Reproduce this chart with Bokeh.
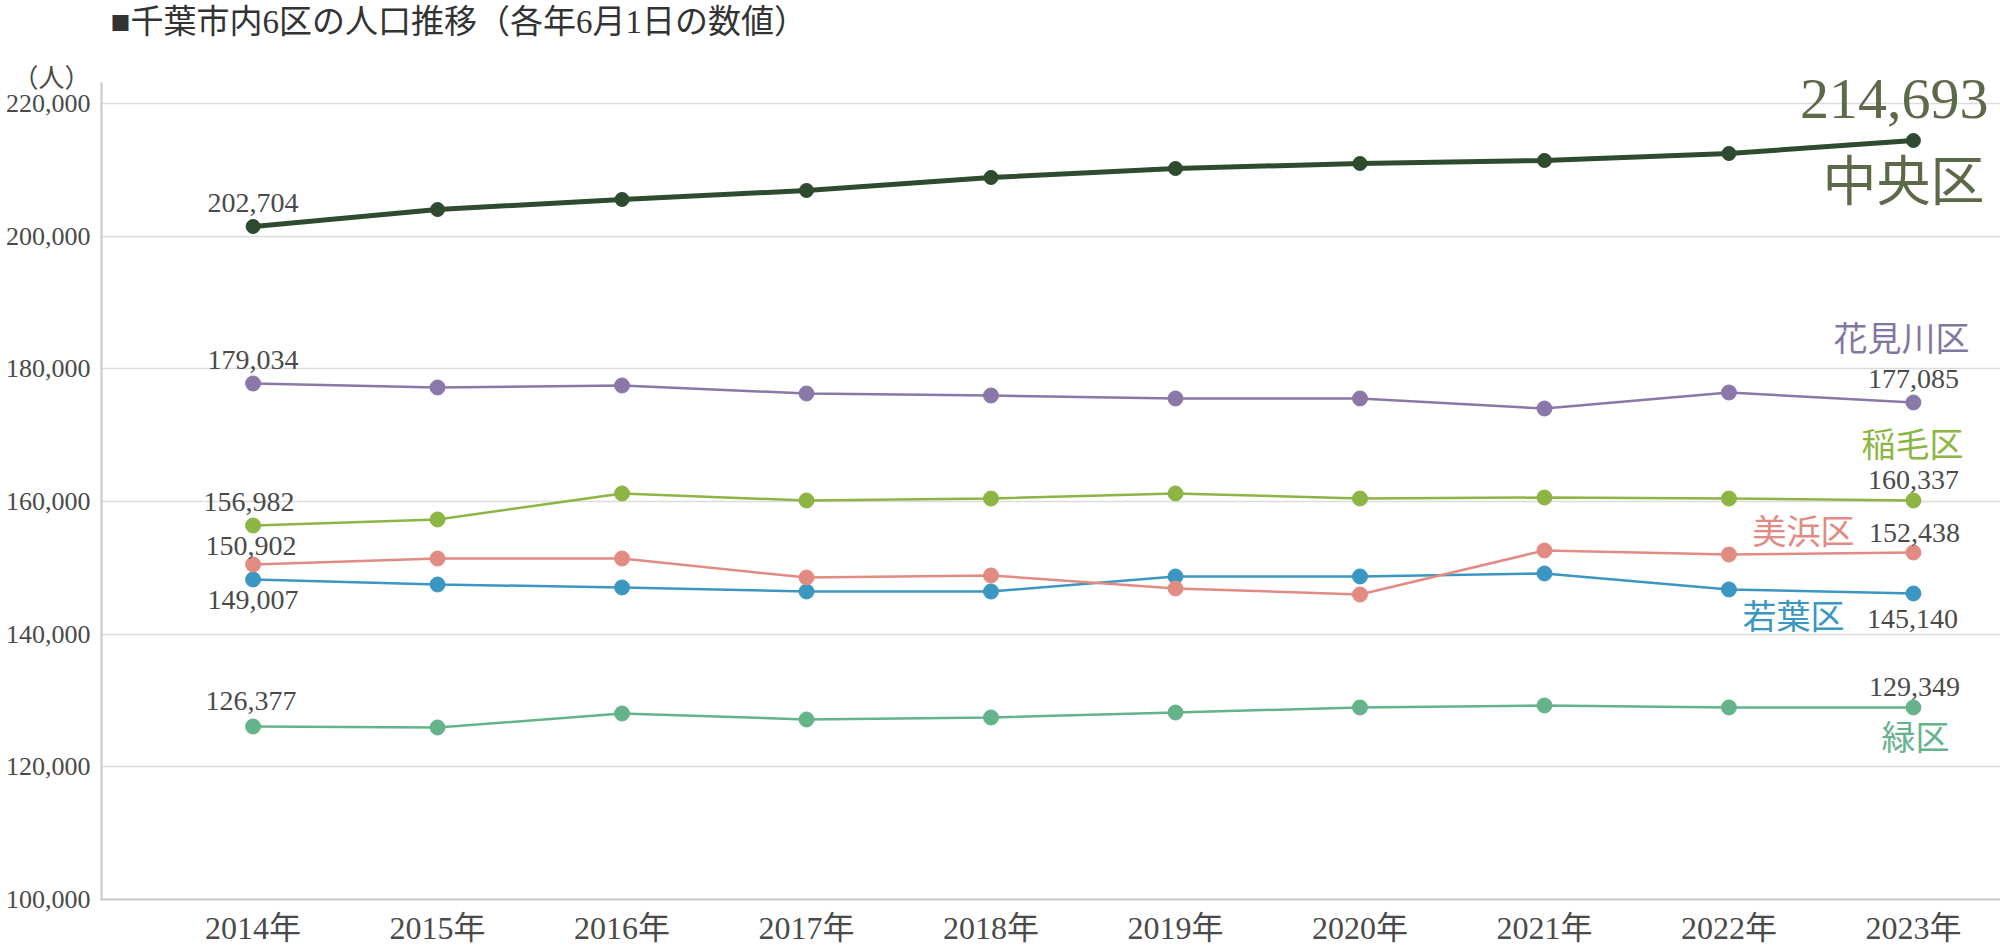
from bokeh.plotting import figure
from bokeh.models import Range1d, FixedTicker, NumeralTickFormatter, Label
from bokeh.embed import file_html
from bokeh.resources import INLINE

# ---------------- data ----------------
years = [2014, 2015, 2016, 2017, 2018, 2019, 2020, 2021, 2022, 2023]
year_labels = [f"{y}年" for y in years]

chuo       = [201460, 204020, 205530, 206890, 208850, 210200, 210960, 211410, 212460, 214420]
hanamigawa = [177790, 177190, 177490, 176280, 175980, 175530, 175530, 174020, 176430, 174930]
inage      = [156380, 157290, 161210, 160150, 160450, 161210, 160450, 160600, 160450, 160150]
mihama     = [150500, 151400, 151400, 148540, 148850, 146890, 145980, 152620, 152010, 152310]
wakaba     = [148240, 147490, 147040, 146430, 146430, 148700, 148700, 149150, 146740, 146130]
midori     = [126080, 125930, 128040, 127140, 127440, 128190, 128950, 129250, 128950, 128950]

ward_names = ["中央区", "花見川区", "稲毛区", "美浜区", "若葉区", "緑区"]
first_year_labels = [202704, 179034, 156982, 150902, 149007, 126377]
last_year_labels  = [214693, 177085, 160337, 152438, 145140, 129349]

y_ticks = [100000, 120000, 140000, 160000, 180000, 200000, 220000]

title_text = "■千葉市内6区の人口推移（各年6月1日の数値）"
unit_text = "（人）"

# ---------------- styling ----------------
FONT = "Liberation Serif, Noto Sans CJK JP"
TXT = "#4a4a4a"
series = [
    (chuo,       "#2e4a2f", 5.0, 14, "#5d6a4a"),
    (hanamigawa, "#8a78a8", 2.5, 15, "#8277a3"),
    (inage,      "#8db544", 2.5, 15, "#8db544"),
    (mihama,     "#e28b82", 2.5, 15, "#e28b82"),
    (wakaba,     "#3b97c2", 2.5, 15, "#3b97c2"),
    (midori,     "#64b38a", 2.5, 15, "#64b38a"),
]

# frame covers x 100..2000 and y 0..899 of the canvas
FRAME_H = 899
X0, X1 = 2013.173, 2023.472
Y0, Y1 = 100000, 235527
AXIS_TOP = 223166   # the vertical axis line starts just above the top grid line


def px_x(px):
    return X0 + (px - 100) / 1900 * (X1 - X0)


def px_y(py):
    return Y1 - py / FRAME_H * (Y1 - Y0)


unit_tick = round(px_y(78))

p = figure(width=2000, height=950, output_backend="svg", toolbar_location=None,
           x_range=Range1d(X0, X1), y_range=Range1d(Y0, Y1),
           min_border_left=100, min_border_right=0, min_border_top=0, min_border_bottom=51)
p.outline_line_color = None
p.background_fill_color = "white"
p.border_fill_color = "white"

# x axis
p.xaxis.ticker = FixedTicker(ticks=years)
p.xaxis.major_label_overrides = {y: l for y, l in zip(years, year_labels)}
p.xaxis.major_label_text_font = FONT
p.xaxis.major_label_text_font_size = "32px"
p.xaxis.major_label_text_color = TXT
p.xaxis.major_tick_line_color = None
p.xaxis.minor_tick_line_color = None
p.xaxis.axis_line_color = "#c8c8c8"
p.xaxis.axis_line_width = 2
p.xaxis.major_label_standoff = 4

# y axis (the unit label rides on an extra tick above the top grid line)
p.yaxis.ticker = FixedTicker(ticks=y_ticks + [unit_tick])
p.yaxis.formatter = NumeralTickFormatter(format="0,0")
p.yaxis.major_label_overrides = {unit_tick: unit_text}
p.yaxis.major_label_text_font = FONT
p.yaxis.major_label_text_font_size = "26px"
p.yaxis.major_label_text_color = TXT
p.yaxis.major_tick_line_color = None
p.yaxis.minor_tick_line_color = None
p.yaxis.axis_line_color = None
p.yaxis.major_label_standoff = 4

p.xgrid.grid_line_color = None
p.ygrid.ticker = FixedTicker(ticks=y_ticks)
p.ygrid.grid_line_color = "#dcdcdc"
p.ygrid.grid_line_width = 1.5

# vertical axis line (half of it is clipped by the frame edge)
p.segment(x0=[X0], y0=[Y0], x1=[X0], y1=[AXIS_TOP], line_color="#c8c8c8", line_width=4)

# lines and markers (dark line drawn last so it is on top)
for vals, col, lw, ms, _ in reversed(series):
    p.line(years, vals, line_color=col, line_width=lw)
    p.scatter(years, vals, size=ms, fill_color=col, line_color=col)

# first-year value labels: (x_offset, y_offset) from the 2014 point
first_offsets = [(0, 23), (0, 23), (-4, 24), (-2, 19), (0, -20), (-2, 26)]
for (vals, *_), v, (dx, dy) in zip(series, first_year_labels, first_offsets):
    p.add_layout(Label(x=years[0], y=vals[0], text=f"{v:,}", x_offset=dx, y_offset=dy,
                       text_align="center", text_baseline="alphabetic",
                       text_font=FONT, text_font_size="28px", text_color=TXT))

# last-year value labels
last_offsets = [(0, 23), (0, 21), (1, 20), (-1, -25), (1, 20)]
for (vals, *_), v, (dx, dy) in zip(series[1:], last_year_labels[1:], last_offsets):
    p.add_layout(Label(x=years[-1], y=vals[-1], text=f"{v:,}", x_offset=dx, y_offset=dy,
                       text_align="center", text_baseline="alphabetic",
                       text_font=FONT, text_font_size="28px", text_color=TXT))
# big label for 中央区
p.add_layout(Label(x=years[-1], y=chuo[-1], text=f"{last_year_labels[0]:,}", x_offset=75, y_offset=42,
                   text_align="right", text_baseline="alphabetic",
                   text_font=FONT, text_font_size="58px", text_color=series[0][4]))

# ward name labels: (x_offset, y_offset, align, size)
name_pos = [(71, -42, "right", "54px"),
            (56, 63, "right", "34px"),
            (50, 55, "right", "34px"),
            (-59, 20, "right", "34px"),
            (-69, -24, "right", "34px"),
            (2, -31, "center", "34px")]
for (vals, _, _, _, tcol), name, (dx, dy, al, fs) in zip(series, ward_names, name_pos):
    p.add_layout(Label(x=years[-1], y=vals[-1], text=name, x_offset=dx, y_offset=dy,
                       text_align=al, text_baseline="middle",
                       text_font=FONT, text_font_size=fs, text_color=tcol))

# chart title
p.add_layout(Label(x=px_x(110), y=px_y(21), text=title_text, text_align="left", text_baseline="middle",
                   text_font=FONT, text_font_size="33px", text_color="#333333"))

open("out.html", "w").write(file_html(p, INLINE))
